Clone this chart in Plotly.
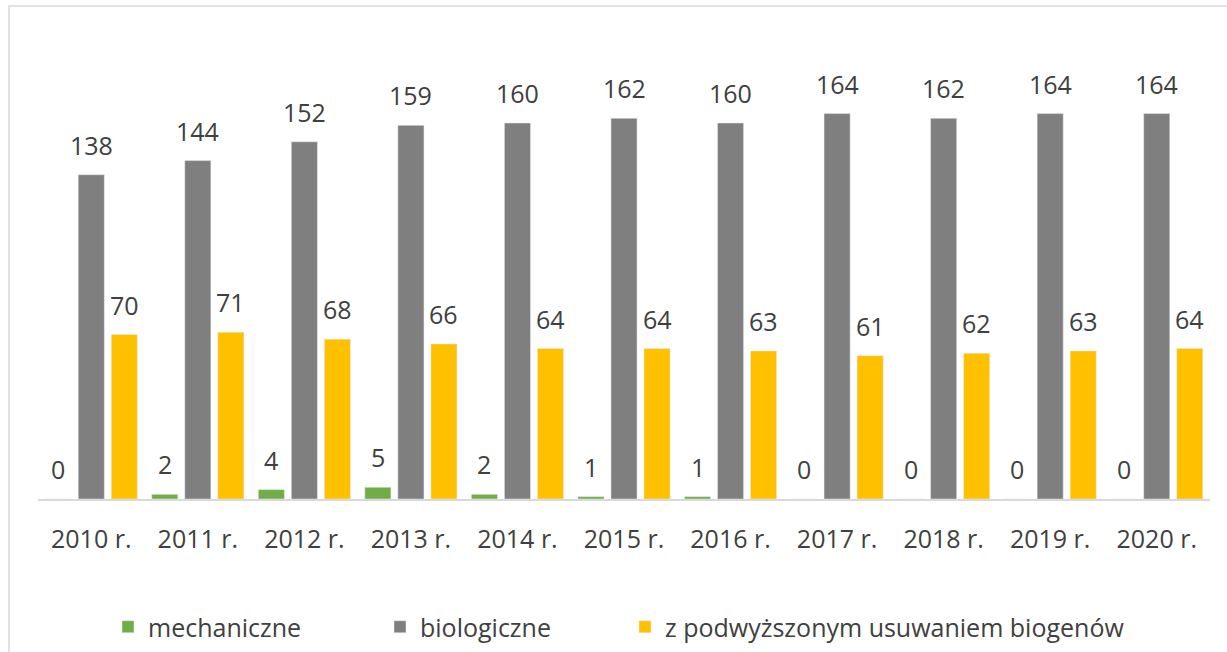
import plotly.graph_objects as go

years = ["2010 r.", "2011 r.", "2012 r.", "2013 r.", "2014 r.", "2015 r.",
         "2016 r.", "2017 r.", "2018 r.", "2019 r.", "2020 r."]
mechaniczne = [0, 2, 4, 5, 2, 1, 1, 0, 0, 0, 0]
biologiczne = [138, 144, 152, 159, 160, 162, 160, 164, 162, 164, 164]
biogeny = [70, 71, 68, 66, 64, 64, 63, 61, 62, 63, 64]

names = ["mechaniczne", "biologiczne", "z podwyższonym usuwaniem biogenów"]
colors = ["#70AD47", "#7F7F7F", "#FFC000"]
series = [mechaniczne, biologiczne, biogeny]
legends = ["legend", "legend2", "legend3"]

W, H = 1227, 652
L, R, T, B = 38, 17, 76, 153
pw = W - L - R
ph = H - T - B
BARGAP = 0.07
slot = (1 - BARGAP) * pw / len(years) / 3

fig = go.Figure()
annotations = []
for i, (name, col, vals, lg) in enumerate(zip(names, colors, series, legends)):
    fig.add_trace(go.Bar(
        x=years, y=vals, name=name, marker_color=col,
        cliponaxis=False, legend=lg,
    ))
    for yr, v in zip(years, vals):
        annotations.append(dict(
            x=yr, y=v, xref="x", yref="y", text=str(v), showarrow=False,
            xanchor="center", yanchor="bottom", xshift=(i - 1) * slot, yshift=11,
            font=dict(family="Open Sans", size=25, color="#404040"),
        ))

legend_px = [108, 380, 625]
leg_common = dict(orientation="h", yanchor="middle", xanchor="left",
                  font=dict(family="Open Sans", size=25, color="#404040"),
                  bgcolor="rgba(0,0,0,0)", itemwidth=30)
ly = (H - B - 627) / ph

layout_legends = {}
for lg, px in zip(legends, legend_px):
    layout_legends[lg] = dict(leg_common, x=(px - L) / pw, y=ly)

fig.update_layout(
    width=W, height=H,
    margin=dict(l=L, r=R, t=T, b=B, autoexpand=False),
    paper_bgcolor="white", plot_bgcolor="white",
    barmode="group", bargap=BARGAP, bargroupgap=0.21,
    showlegend=True,
    font=dict(family="Open Sans", color="#404040"),
    xaxis=dict(showline=True, linecolor="#D9D9D9", linewidth=2,
               ticks="", ticklabelstandoff=17,
               tickfont=dict(family="Open Sans", size=25, color="#404040"),
               showgrid=False, fixedrange=True),
    yaxis=dict(range=[0, 180], visible=False, showgrid=False, fixedrange=True),
    annotations=annotations,
    **layout_legends,
)

# chart frame
fig.add_shape(type="rect", xref="paper", yref="paper",
              x0=(9 - L) / pw, x1=(1240 - L) / pw,
              y0=(H - B - 665) / ph, y1=(H - B - 6) / ph,
              line=dict(color="#D9D9D9", width=1.5), layer="below")

fig.write_html("out.html", config={"displayModeBar": False},
               post_script="document.body.style.margin='0';document.body.style.padding='0';")
